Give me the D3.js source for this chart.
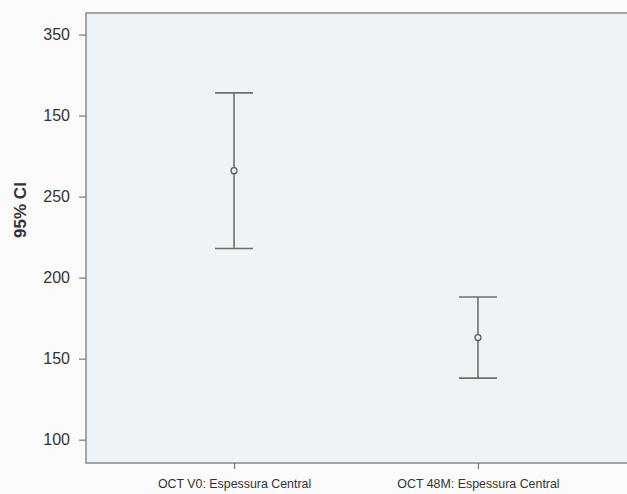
<!DOCTYPE html>
<html>
<head>
<meta charset="utf-8">
<script src="https://cdn.jsdelivr.net/npm/d3@7"></script>
<style>
  html, body { margin: 0; padding: 0; background: #fbfbfb; }
  svg { display: block; }
  text { font-family: "Liberation Sans", Arial, sans-serif; }
</style>
</head>
<body>
<svg id="chart" width="627" height="494"></svg>
<script>
// Variables compared
const categories = ["OCT V0: Espessura Central", "OCT 48M: Espessura Central"];
// Mean and 95% confidence interval bounds
const means = [266, 163];
const lowerCI = [218, 138];
const upperCI = [314, 188];
// Y axis tick positions and their printed labels
const tickValues = [100, 150, 200, 250, 300, 350];
const tickLabels = ["100", "150", "200", "250", "150", "350"];
const yTitle = "95% CI";

const svg = d3.select("#chart");
const margin = { left: 86, top: 13, right: -1, bottom: 31 };
const W = 627, H = 494;
const innerW = W - margin.left - margin.right;
const innerH = H - margin.top - margin.bottom;

const x = d3.scalePoint().domain(categories).range([0, innerW - 2]).padding(0.607);
const y = d3.scaleLinear().domain([85.6, 363.3]).range([innerH, 0]);

const g = svg.append("g").attr("transform", `translate(${margin.left},${margin.top})`);

// Plot area background and frame
g.append("rect")
  .attr("width", innerW).attr("height", innerH)
  .attr("fill", "#eef3f6")
  .attr("stroke", "#8a8a8a").attr("stroke-width", 1.5);

// Y axis
const yAxis = d3.axisLeft(y)
  .tickValues(tickValues)
  .tickSize(7)
  .tickPadding(9)
  .tickFormat((d, i) => tickLabels[i]);
const ya = g.append("g").call(yAxis);
ya.select(".domain").remove();
ya.selectAll(".tick line").attr("stroke", "#777").attr("stroke-width", 1.2);
ya.selectAll(".tick text")
  .attr("fill", "#333").style("font-size", "16px");

// X axis
const xAxis = d3.axisBottom(x).tickSize(6).tickPadding(10);
const xa = g.append("g").attr("transform", `translate(0,${innerH})`).call(xAxis);
xa.select(".domain").remove();
xa.selectAll(".tick line").attr("stroke", "#777").attr("stroke-width", 1.2);
xa.selectAll(".tick text")
  .attr("fill", "#333").style("font-size", "12.4px");

// Y axis title
svg.append("text")
  .attr("transform", "translate(26,210) rotate(-90)")
  .attr("text-anchor", "middle")
  .attr("fill", "#333")
  .style("font-size", "17px").style("font-weight", "bold")
  .text(yTitle);

// Error bars
const capHalf = 19;
const bars = g.selectAll(".errbar").data(categories).join("g").attr("class", "errbar");
bars.append("line")
  .attr("x1", d => x(d)).attr("x2", d => x(d))
  .attr("y1", (d, i) => y(upperCI[i])).attr("y2", (d, i) => y(lowerCI[i]))
  .attr("stroke", "#6f6f6f").attr("stroke-width", 1.6);
bars.append("line")
  .attr("x1", d => x(d) - capHalf).attr("x2", d => x(d) + capHalf)
  .attr("y1", (d, i) => y(upperCI[i])).attr("y2", (d, i) => y(upperCI[i]))
  .attr("stroke", "#6f6f6f").attr("stroke-width", 1.6);
bars.append("line")
  .attr("x1", d => x(d) - capHalf).attr("x2", d => x(d) + capHalf)
  .attr("y1", (d, i) => y(lowerCI[i])).attr("y2", (d, i) => y(lowerCI[i]))
  .attr("stroke", "#6f6f6f").attr("stroke-width", 1.6);
bars.append("circle")
  .attr("cx", d => x(d)).attr("cy", (d, i) => y(means[i]))
  .attr("r", 3)
  .attr("fill", "#eef3f6").attr("stroke", "#555").attr("stroke-width", 1.2);
</script>
</body>
</html>
